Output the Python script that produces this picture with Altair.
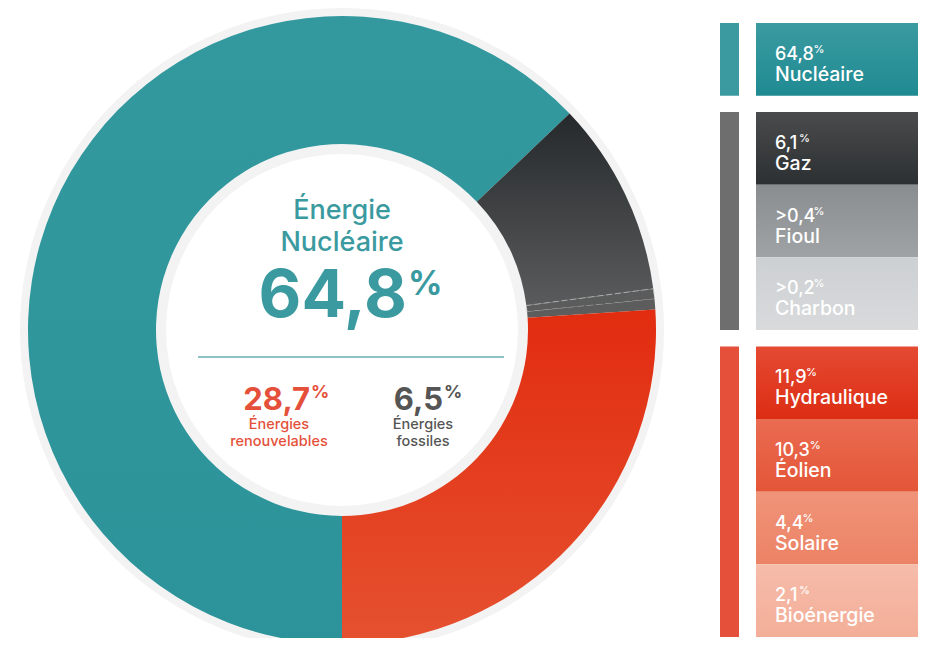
import math
import altair as alt
import pandas as pd

# ---------------- data ----------------
# Ring segments as drawn in the picture (share of the ring, %)
ring_segments = ["Nucléaire", "Gaz", "Fioul", "Charbon", "Renouvelables"]
ring_shares = [62.9, 10.0, 0.53, 0.53, 26.04]

# Legend items
sources = ["Nucléaire", "Gaz", "Fioul", "Charbon", "Hydraulique", "Éolien", "Solaire", "Bioénergie"]
share_labels = ["64,8", "6,1", ">0,4", ">0,2", "11,9", "10,3", "4,4", "2,1"]
groups = ["nucleaire", "fossile", "fossile", "fossile",
          "renouvelable", "renouvelable", "renouvelable", "renouvelable"]
group_names = ["nucleaire", "fossile", "renouvelable"]

# Centre texts
centre_title = ["Énergie", "Nucléaire"]
centre_value = "64,8"
sub_values = ["28,7", "6,5"]
sub_line1 = ["Énergies", "Énergies"]
sub_line2 = ["renouvelables", "fossiles"]

# ---------------- styles ----------------
FONT = "Inter"
TEAL = "#3a9aa0"
RED = "#e4503a"
DGRAY = "#555555"
CX, CY = 334, 322
R_OUT, R_IN = 314, 186

ring_fills = {
    "Nucléaire": ["#33999f", "#2b9399"],
    "Gaz": ["#25292b", "#5a5b5c"],
    "Fioul": ["#5a5b5c", "#5c5c5c"],
    "Charbon": ["#5c5c5c", "#5d5d5d"],
    "Renouvelables": ["#e22c10", "#e5512f"],
}
box_fills = {
    "Nucléaire": ["#3b9ba1", "#1f8a92"],
    "Gaz": ["#4a4b4c", "#2c3032"],
    "Fioul": ["#8a8d8f", "#a0a3a5"],
    "Charbon": ["#cdd0d2", "#d8dadc"],
    "Hydraulique": ["#e54a33", "#dc2d13"],
    "Éolien": ["#ea6c52", "#e45537"],
    "Solaire": ["#f09479", "#ec8265"],
    "Bioénergie": ["#f6bcaa", "#f3ae98"],
}
bar_colors = [TEAL, "#6e6e6e", RED]


def grad(c0, c1):
    return alt.Gradient(
        gradient="linear",
        stops=[alt.GradientStop(color=c0, offset=0), alt.GradientStop(color=c1, offset=1)],
        x1=0, x2=0, y1=0, y2=1,
    )


# ---------------- ring ----------------
ring_df = pd.DataFrame({"segment": ring_segments, "share": ring_shares,
                        "order": list(range(len(ring_segments)))})

ring_base = (
    alt.Chart(ring_df)
    .transform_window(cum="sum(share)", sort=[alt.SortField("order")], frame=[None, 0])
    .transform_calculate(start="datum.cum - datum.share")
)
theta_scale = alt.Scale(domain=[0, 100], range=[math.pi, 3 * math.pi])

background = alt.Chart(pd.DataFrame({"a": [1]})).mark_arc(
    theta=0, theta2=2 * math.pi, radius=R_OUT + 8, radius2=R_IN - 10,
    fill="#f3f3f3", x=CX, y=CY,
).encode(opacity=alt.value(1))

ring_layers = [background]
for seg in ring_segments:
    extra = {}
    if seg == "Fioul":
        extra = dict(stroke="#b9b9b9", strokeWidth=0.8, strokeDash=[6, 3])
    ring_layers.append(
        ring_base.transform_filter(alt.datum.segment == seg)
        .mark_arc(radius=R_OUT, radius2=R_IN, x=CX, y=CY,
                  fill=grad(*ring_fills[seg]), **extra)
        .encode(theta=alt.Theta("start:Q", scale=theta_scale),
                theta2=alt.Theta2("cum:Q"))
    )

# ---------------- legend ----------------
GAP = 0.227
leg_df = pd.DataFrame({"source": sources, "num": share_labels, "group": groups})
leg_df["idx"] = range(len(sources))
leg_df["gidx"] = [group_names.index(g) for g in groups]
leg_df["top"] = leg_df["idx"] + leg_df["gidx"] * GAP
leg_df["bot"] = leg_df["top"] + 1

y_scale = alt.Scale(domain=[0, len(sources) + 2 * GAP], range=[15, 629])
leg_base = alt.Chart(leg_df)

legend_layers = []
bars = leg_base.transform_aggregate(
    top="min(top)", bot="max(bot)", groupby=["group"]
).mark_rect().encode(
    x=alt.value(712), x2=alt.value(731),
    y=alt.Y("top:Q", scale=y_scale, axis=None),
    y2="bot:Q",
    color=alt.Color("group:N", scale=alt.Scale(domain=group_names, range=bar_colors), legend=None),
)
legend_layers.append(bars)

for s in sources:
    legend_layers.append(
        leg_base.transform_filter(alt.datum.source == s)
        .mark_rect(fill=grad(*box_fills[s]))
        .encode(x=alt.value(748), x2=alt.value(910),
                y=alt.Y("top:Q", scale=y_scale, axis=None), y2="bot:Q")
    )

num_text = leg_base.mark_text(
    align="left", baseline="alphabetic", dy=37, font=FONT, fontSize=18,
    fontWeight=500, color="white",
).encode(x=alt.value(767), y=alt.Y("top:Q", scale=y_scale, axis=None), text="num:N")

# approximate rendered width of the number text, to place the small "%" after it
pct_text = leg_base.transform_calculate(
    n1="length(split(datum.num, '1')) - 1",
).transform_calculate(
    px="767 + 10.9 * (length(datum.num) - 1 - datum.n1) + 7.2 * datum.n1 + 4.6 + 1.2"
).mark_text(
    align="left", baseline="alphabetic", dy=30, font=FONT, fontSize=11,
    fontWeight=500, color="white",
).encode(x=alt.X("px:Q", scale=None), y=alt.Y("top:Q", scale=y_scale, axis=None),
         text=alt.value("%"))

name_text = leg_base.mark_text(
    align="left", baseline="alphabetic", dy=58, font=FONT, fontSize=19.5,
    fontWeight=500, color="white",
).encode(x=alt.value(767), y=alt.Y("top:Q", scale=y_scale, axis=None), text="source:N")

legend_layers += [num_text, pct_text, name_text]

# ---------------- centre texts ----------------
one = pd.DataFrame({"a": [1]})


def txt(text, x, y, size, color, weight=500, align="center"):
    return alt.Chart(one).mark_text(
        text=text, align=align, baseline="alphabetic", font=FONT,
        fontSize=size, fontWeight=weight, color=color,
    ).encode(x=alt.value(x), y=alt.value(y))


centre_layers = [
    txt(centre_title[0], CX, 211, 27, TEAL),
    txt(centre_title[1], CX, 243, 27, TEAL),
    txt(centre_value, 399, 309, 66, TEAL, weight=700, align="right"),
    txt("%", 400, 287, 34, TEAL, weight=700, align="left"),
    alt.Chart(one).mark_rule(color="#8cc2c6", strokeWidth=2).encode(
        x=alt.value(190), x2=alt.value(496), y=alt.value(349)),
    txt(sub_values[0], 302, 402, 31, RED, weight=700, align="right"),
    txt("%", 303, 390, 18, RED, weight=700, align="left"),
    txt(sub_line1[0], 271, 421, 14.5, RED),
    txt(sub_line2[0], 271, 438, 14.5, RED),
    txt(sub_values[1], 435, 402, 31, DGRAY, weight=700, align="right"),
    txt("%", 436, 390, 18, DGRAY, weight=700, align="left"),
    txt(sub_line1[1], 415, 421, 14.5, DGRAY),
    txt(sub_line2[1], 415, 438, 14.5, DGRAY),
]

chart = (
    alt.layer(*ring_layers, *legend_layers, *centre_layers)
    .properties(width=911, height=630, autosize=alt.AutoSizeParams(type="none"), padding=0,
                background="white")
    .configure_view(stroke=None)
)

chart.save("out.html", embed_options={"renderer": "svg", "actions": False})
